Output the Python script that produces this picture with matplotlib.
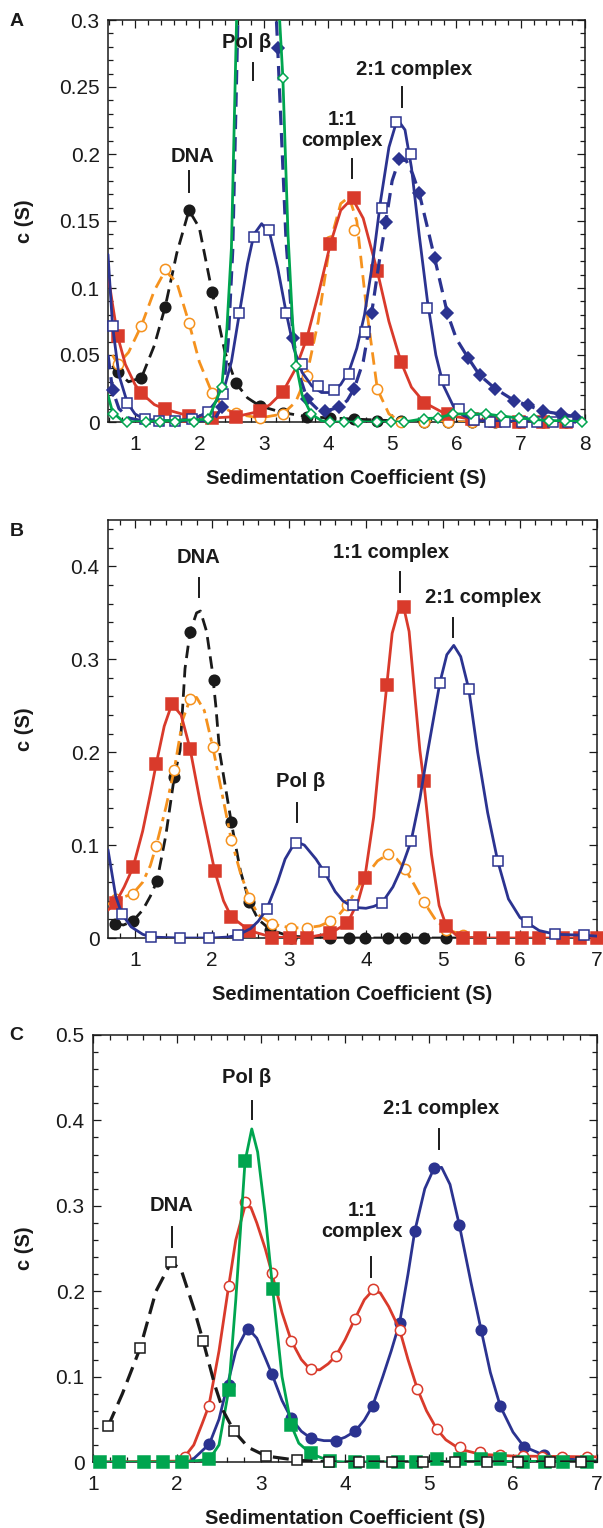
import matplotlib
matplotlib.use("Agg")
import matplotlib.pyplot as plt
from matplotlib.ticker import MultipleLocator, FuncFormatter

plt.rcParams['font.family'] = ['Liberation Sans', 'DejaVu Sans']

RED = '#d93a2b'
BLUE = '#2b3390'
GREEN = '#00a54f'
ORANGE = '#f5921e'
BLACK = '#1a1a1a'

# ---------------- panel A ----------------
a_grid = [0.73, 1.10, 1.47, 1.84, 2.20, 2.57, 2.94, 3.30, 3.67, 4.04,
          4.40, 4.77, 5.14, 5.50, 5.87, 6.24, 6.60, 6.97, 7.34, 7.70]
a_dna = [0.037, 0.033, 0.086, 0.158, 0.097, 0.029, 0.012, 0.007, 0.004, 0.003,
         0.002, 0.001, 0.001, 0.0, 0.0, 0.0, 0.0, 0.0, 0.0, 0.0]
a_orange = [0.043, 0.072, 0.1145, 0.074, 0.0215, 0.007, 0.003, 0.006, 0.0345, 0.135,
            0.143, 0.0245, 0.0, 0.0, 0.0, 0.0, 0.0, 0.0, 0.0, 0.0]
a_red = [0.064, 0.0215, 0.0095, 0.0045, 0.003, 0.004, 0.008, 0.0225, 0.062, 0.133,
         0.167, 0.1125, 0.0445, 0.0145, 0.006, 0.002, 0.001, 0.0, 0.0, 0.0]

a_dna_fit_x = [0.65, 0.73, 0.9, 1.1, 1.3, 1.47, 1.65, 1.84, 2.0, 2.2, 2.4, 2.57,
               2.75, 2.94, 3.3, 3.67, 4.04, 4.5, 5.0, 5.5, 8.0]
a_dna_fit_y = [0.042, 0.037, 0.030, 0.033, 0.057, 0.086, 0.126, 0.158, 0.145, 0.097, 0.052, 0.029,
               0.018, 0.012, 0.007, 0.004, 0.003, 0.002, 0.001, 0.0, 0.0]

a_or_fit_x = [0.65, 0.73, 0.9, 1.1, 1.3, 1.47, 1.65, 1.84, 2.0, 2.2, 2.4, 2.57, 2.94,
              3.3, 3.5, 3.67, 3.85, 4.04, 4.2, 4.33, 4.45, 4.6, 4.77, 4.95, 5.14, 8.0]
a_or_fit_y = [0.05, 0.043, 0.052, 0.072, 0.098, 0.113, 0.104, 0.074, 0.045, 0.0215, 0.01, 0.006, 0.003,
              0.006, 0.015, 0.0345, 0.075, 0.135, 0.163, 0.168, 0.15, 0.085, 0.0245, 0.006, 0.0, 0.0]

a_red_fit_x = [0.58, 0.65, 0.73, 0.85, 1.0, 1.1, 1.3, 1.47, 1.84, 2.2, 2.57, 2.94, 3.1, 3.3,
               3.5, 3.67, 3.85, 4.04, 4.2, 4.38, 4.55, 4.77, 4.95, 5.14, 5.3, 5.5, 5.87,
               6.24, 7.0, 8.0]
a_red_fit_y = [0.11, 0.088, 0.064, 0.043, 0.028, 0.0215, 0.013, 0.0095, 0.0045, 0.003, 0.004, 0.008, 0.013, 0.0225,
               0.04, 0.062, 0.095, 0.133, 0.158, 0.167, 0.152, 0.1125, 0.075, 0.0445, 0.026, 0.0145, 0.005,
               0.002, 0.0, 0.0]

a_sq_x = [0.65, 0.88, 1.15, 1.38, 1.62, 1.88, 2.13, 2.37, 2.62, 2.85, 3.08, 3.35, 3.60, 3.84, 4.10,
          4.33, 4.57, 4.84, 5.06, 5.30, 5.55, 5.80, 6.04, 6.28, 6.52, 6.76, 7.02, 7.26, 7.50, 7.74]
a_sq_y = [0.072, 0.0145, 0.002, 0.001, 0.001, 0.0025, 0.0075, 0.021, 0.081, 0.138, 0.143, 0.081, 0.043, 0.027, 0.024,
          0.036, 0.067, 0.160, 0.224, 0.200, 0.085, 0.031, 0.0095, 0.0015, 0.0, 0.0, 0.0, 0.0, 0.0, 0.0]
a_sq_fit_x = [0.58, 0.65, 0.75, 0.88, 1.0, 1.15, 1.5, 1.9, 2.13, 2.37, 2.5, 2.62, 2.75, 2.85, 2.97,
              3.1, 3.22, 3.35, 3.47, 3.6, 3.75, 3.9, 4.05, 4.2, 4.33, 4.45, 4.57, 4.7, 4.82, 4.95,
              5.08, 5.2, 5.3, 5.42, 5.55, 5.68, 5.8, 5.95, 6.1, 6.3, 8.0]
a_sq_fit_y = [0.125, 0.072, 0.035, 0.0145, 0.006, 0.002, 0.001, 0.002, 0.0075, 0.022, 0.045, 0.08, 0.118, 0.14, 0.148,
              0.14, 0.115, 0.082, 0.055, 0.037, 0.027, 0.022, 0.022, 0.028, 0.038, 0.055, 0.08, 0.12, 0.165, 0.205,
              0.226, 0.218, 0.19, 0.14, 0.09, 0.05, 0.027, 0.012, 0.005, 0.001, 0.0]

a_dia_x = [0.65, 2.35, 3.22, 3.46, 3.68, 3.96, 4.17, 4.41, 4.68, 4.90, 5.11, 5.42,
           5.66, 5.86, 6.18, 6.36, 6.60, 6.90, 7.11, 7.35, 7.62, 7.84]
a_dia_y = [0.024, 0.011, 0.279, 0.063, 0.017, 0.008, 0.011, 0.025, 0.081, 0.149, 0.196, 0.171,
           0.1225, 0.081, 0.048, 0.035, 0.025, 0.016, 0.0125, 0.008, 0.006, 0.004]
# peak of Pol beta runs far above the axis top
a_dia_fit_x = [0.58, 0.65, 0.75, 0.9, 1.2, 2.0, 2.25, 2.35, 2.45, 2.52, 2.60, 2.9, 3.2, 3.22, 3.35,
               3.46, 3.57, 3.68, 3.85, 3.96, 4.17, 4.3, 4.41, 4.55, 4.68, 4.80, 4.90, 5.0, 5.11,
               5.22, 5.32, 5.42, 5.55, 5.66, 5.86, 6.0, 6.18, 6.36, 6.60, 6.90, 7.11, 7.35, 7.62,
               7.84, 8.0]
a_dia_fit_y = [0.05, 0.024, 0.01, 0.003, 0.0, 0.0, 0.003, 0.011, 0.06, 0.128, 0.30, 0.6, 0.30, 0.279, 0.135,
               0.063, 0.033, 0.017, 0.009, 0.008, 0.011, 0.016, 0.025, 0.045, 0.081, 0.12, 0.149, 0.18, 0.196,
               0.195, 0.185, 0.171, 0.145, 0.1225, 0.081, 0.062, 0.048, 0.035, 0.025, 0.016, 0.0125, 0.008, 0.006,
               0.004, 0.003]

a_gd_x = [0.65, 0.88, 1.17, 1.39, 1.62, 1.92, 2.14, 2.35, 3.30, 3.51, 3.74, 4.04, 4.25, 4.47,
          4.76, 4.98, 5.19, 5.49, 5.72, 5.94, 6.22, 6.46, 6.69, 6.97, 7.20, 7.44, 7.69, 7.95]
a_gd_y = [0.006, 0.0, 0.0, 0.0, 0.0, 0.0, 0.002, 0.026, 0.257, 0.042, 0.006, 0.0, 0.0, 0.0,
          0.0, 0.0, 0.0, 0.0025, 0.003, 0.006, 0.006, 0.006, 0.0045, 0.003, 0.002, 0.001, 0.001, 0.0]
a_gd_fit_x = [0.58, 0.65, 0.8, 0.88, 2.14, 2.35, 2.43, 2.50, 2.58, 2.9, 3.25, 3.30, 3.38, 3.45, 3.51,
              3.6, 3.74, 3.9, 4.04, 5.19, 5.49, 5.72, 5.94, 6.22, 6.46, 6.69, 6.97, 7.2, 7.44,
              7.69, 7.95, 8.0]
a_gd_fit_y = [0.02, 0.0075, 0.001, 0.0, 0.002, 0.026, 0.07, 0.13, 0.30, 0.9, 0.30, 0.257, 0.14, 0.075, 0.042,
              0.02, 0.006, 0.001, 0.0, 0.0, 0.0025, 0.003, 0.006, 0.006, 0.006, 0.0045, 0.003, 0.002, 0.001,
              0.001, 0.0, 0.0]

a_labels = [("DNA", 1.89, 0.198, 1.84, 0.172, 0.187),
            ("Pol β", 2.74, 0.283, 2.83, 0.255, 0.268),
            ("1:1\ncomplex", 4.22, 0.218, 4.37, 0.182, 0.196),
            ("2:1 complex", 5.34, 0.263, 5.15, 0.235, 0.250)]

# ---------------- panel B ----------------
b_dna_x = [0.735, 0.97, 1.285, 1.51, 1.715, 2.03, 2.25, 2.485, 2.76, 3.02, 3.535, 3.775,
           3.985, 4.285, 4.51, 4.75, 5.045]
b_dna_y = [0.0155, 0.018, 0.061, 0.173, 0.329, 0.278, 0.125, 0.039, 0.009, 0.0, 0.0, 0.0,
           0.0, 0.0, 0.0, 0.0, 0.0]
b_dna_fit_x = [0.735, 0.85, 0.97, 1.1, 1.2, 1.285, 1.4, 1.51, 1.585, 1.65, 1.715, 1.8, 1.85, 1.93,
               2.0, 2.05, 2.1, 2.18, 2.25, 2.37, 2.485, 2.6, 2.76, 3.0, 3.5, 5.5]
b_dna_fit_y = [0.0155, 0.014, 0.018, 0.03, 0.045, 0.061, 0.11, 0.173, 0.202, 0.29, 0.329, 0.35, 0.352, 0.33,
               0.29, 0.25, 0.2, 0.16, 0.125, 0.072, 0.039, 0.02, 0.009, 0.002, 0.0, 0.0]

b_or_x = [0.75, 0.97, 1.275, 1.51, 1.715, 2.01, 2.25, 2.485, 2.775, 3.02, 3.235, 3.535, 3.76,
          4.285, 4.51, 4.75, 5.045, 5.26]
b_or_y = [0.042, 0.0475, 0.099, 0.181, 0.257, 0.206, 0.106, 0.043, 0.015, 0.011, 0.011, 0.018, 0.036,
          0.090, 0.074, 0.039, 0.009, 0.0035]
b_or_fit_x = [0.65, 0.75, 0.85, 0.97, 1.1, 1.2, 1.275, 1.4, 1.51, 1.62, 1.715, 1.8, 1.9, 2.01, 2.12,
              2.25, 2.37, 2.485, 2.6, 2.775, 3.02, 3.235, 3.4, 3.535, 3.65, 3.76, 3.9, 4.0, 4.15,
              4.285, 4.4, 4.51, 4.63, 4.75, 4.9, 5.045, 5.26, 5.5]
b_or_fit_y = [0.036, 0.042, 0.044, 0.0475, 0.06, 0.078, 0.099, 0.14, 0.181, 0.235, 0.257, 0.259, 0.245, 0.206, 0.16,
              0.106, 0.07, 0.043, 0.025, 0.015, 0.011, 0.011, 0.013, 0.018, 0.025, 0.036, 0.055, 0.067, 0.083,
              0.090, 0.085, 0.074, 0.057, 0.039, 0.02, 0.009, 0.0035, 0.0]

b_red_x = [0.75, 0.975, 1.275, 1.48, 1.715, 2.035, 2.25, 2.485, 2.775, 3.01, 3.235, 3.535, 3.76,
           3.985, 4.27, 4.49, 4.75, 5.045, 5.26, 5.485, 5.785, 6.025, 6.25, 6.56, 6.775, 7.0]
b_red_y = [0.038, 0.076, 0.187, 0.252, 0.204, 0.0725, 0.023, 0.008, 0.0, 0.0, 0.0, 0.005, 0.016,
           0.065, 0.272, 0.356, 0.169, 0.0125, 0.0, 0.0, 0.0, 0.0, 0.0, 0.0, 0.0, 0.0]
b_red_fit_x = [0.65, 0.75, 0.86, 0.975, 1.1, 1.2, 1.275, 1.38, 1.48, 1.6, 1.715, 1.85, 2.035, 2.15,
               2.25, 2.485, 2.775, 3.2, 3.535, 3.76, 3.9, 3.985, 4.1, 4.2, 4.27, 4.34, 4.42, 4.49,
               4.56, 4.64, 4.70, 4.75, 4.85, 4.95, 5.045, 5.2, 5.5, 7.0]
b_red_fit_y = [0.03, 0.038, 0.055, 0.076, 0.115, 0.155, 0.187, 0.228, 0.252, 0.24, 0.204, 0.145, 0.0725, 0.04,
               0.023, 0.008, 0.001, 0.0, 0.005, 0.016, 0.04, 0.065, 0.13, 0.215, 0.272, 0.328, 0.352, 0.356,
               0.33, 0.256, 0.202, 0.169, 0.09, 0.035, 0.0125, 0.001, 0.0, 0.0]

b_sq_x = [0.83, 1.21, 1.585, 1.96, 2.335, 2.71, 3.085, 3.46, 3.835, 4.21, 4.585, 4.96, 5.335,
          5.71, 6.085, 6.46, 6.835]
b_sq_y = [0.026, 0.001, 0.0, 0.0, 0.003, 0.031, 0.102, 0.071, 0.035, 0.038, 0.104, 0.275, 0.268,
          0.083, 0.017, 0.004, 0.003]
b_sq_fit_x = [0.65, 0.75, 0.83, 0.95, 1.1, 1.21, 1.6, 2.0, 2.2, 2.335, 2.5, 2.6, 2.71, 2.85, 2.95,
              3.085, 3.2, 3.35, 3.46, 3.6, 3.7, 3.835, 4.0, 4.1, 4.21, 4.35, 4.46, 4.585, 4.7, 4.8,
              4.96, 5.05, 5.14, 5.23, 5.335, 5.45, 5.58, 5.71, 5.85, 6.0, 6.085, 6.25, 6.46, 6.835, 7.0]
b_sq_fit_y = [0.095, 0.045, 0.026, 0.012, 0.004, 0.001, 0.0, 0.0, 0.001, 0.003, 0.01, 0.018, 0.031, 0.06, 0.085,
              0.104, 0.1, 0.085, 0.071, 0.05, 0.04, 0.033, 0.032, 0.034, 0.038, 0.055, 0.075, 0.104, 0.15, 0.2,
              0.275, 0.305, 0.315, 0.303, 0.268, 0.2, 0.135, 0.083, 0.042, 0.022, 0.017, 0.008, 0.004, 0.003, 0.002]

b_labels = [("DNA", 1.82, 0.410, 1.83, 0.367, 0.388),
            ("1:1 complex", 4.33, 0.415, 4.44, 0.372, 0.394),
            ("2:1 complex", 5.52, 0.367, 5.13, 0.324, 0.345),
            ("Pol β", 3.15, 0.168, 3.10, 0.125, 0.145)]

# ---------------- panel C ----------------
c_dna_x = [1.18, 1.56, 1.93, 2.31, 2.68, 3.06, 3.43, 3.81, 4.17, 4.56, 4.93, 5.31, 5.69, 6.06, 6.44, 6.81]
c_dna_y = [0.042, 0.133, 0.234, 0.142, 0.036, 0.007, 0.002, 0.0, 0.0, 0.0, 0.0, 0.0, 0.0, 0.0, 0.0, 0.0]
c_dna_fit_x = [1.18, 1.35, 1.56, 1.75, 1.93, 2.05, 2.2, 2.31, 2.45, 2.55, 2.68, 2.85, 3.06, 3.43, 3.81, 7.0]
c_dna_fit_y = [0.042, 0.08, 0.133, 0.2, 0.234, 0.225, 0.18, 0.142, 0.09, 0.06, 0.036, 0.017, 0.007, 0.002, 0.0, 0.0]

c_red_x = [2.09, 2.38, 2.615, 2.81, 3.13, 3.36, 3.59, 3.89, 4.12, 4.33, 4.65, 4.86, 5.09, 5.37,
           5.61, 5.85, 6.12, 6.35, 6.58, 6.88]
c_red_y = [0.006, 0.066, 0.206, 0.304, 0.221, 0.142, 0.109, 0.124, 0.168, 0.203, 0.155, 0.086, 0.039, 0.018,
           0.012, 0.008, 0.007, 0.006, 0.006, 0.006]
c_red_fit_x = [1.0, 2.0, 2.09, 2.2, 2.3, 2.38, 2.5, 2.615, 2.7, 2.81, 2.88, 2.95, 3.05, 3.13, 3.25, 3.36,
               3.48, 3.59, 3.7, 3.8, 3.89, 4.0, 4.12, 4.23, 4.33, 4.42, 4.52, 4.65, 4.75, 4.86, 4.97,
               5.09, 5.2, 5.37, 5.61, 6.0, 7.0]
c_red_fit_y = [0.0, 0.001, 0.006, 0.02, 0.045, 0.066, 0.13, 0.206, 0.26, 0.300, 0.298, 0.28, 0.25, 0.221, 0.175, 0.142,
               0.12, 0.108, 0.108, 0.115, 0.124, 0.143, 0.168, 0.19, 0.201, 0.198, 0.182, 0.155, 0.12, 0.086, 0.06,
               0.039, 0.026, 0.015, 0.009, 0.007, 0.006]

c_gr_x = [1.08, 1.31, 1.61, 1.83, 2.06, 2.385, 2.615, 2.81, 3.14, 3.36, 3.59, 3.82, 4.12, 4.33,
          4.63, 4.85, 5.09, 5.37, 5.62, 5.85, 6.12, 6.38, 6.60, 6.88]
c_gr_y = [0.0, 0.0, 0.0, 0.0, 0.0, 0.003, 0.084, 0.352, 0.202, 0.043, 0.01, 0.001, 0.0, 0.0,
          0.0, 0.0, 0.003, 0.003, 0.003, 0.003, 0.0, 0.0, 0.0, 0.0]
c_gr_fit_x = [1.0, 2.06, 2.385, 2.5, 2.615, 2.7, 2.81, 2.89, 2.96, 3.05, 3.14, 3.25, 3.36, 3.45, 3.59,
              3.82, 4.0, 7.0]
c_gr_fit_y = [0.0, 0.0, 0.003, 0.02, 0.084, 0.19, 0.352, 0.39, 0.363, 0.29, 0.202, 0.1, 0.043, 0.022, 0.01,
              0.001, 0.0, 0.001]

c_bl_x = [2.385, 2.615, 2.84, 3.13, 3.36, 3.59, 3.89, 4.12, 4.33, 4.65, 4.83, 5.06, 5.36, 5.62,
          5.85, 6.13, 6.37, 6.58, 6.87]
c_bl_y = [0.021, 0.09, 0.156, 0.103, 0.051, 0.028, 0.025, 0.036, 0.066, 0.163, 0.27, 0.344, 0.278, 0.155,
          0.065, 0.018, 0.008, 0.004, 0.001]
c_bl_fit_x = [2.0, 2.2, 2.385, 2.5, 2.6, 2.7, 2.84, 2.95, 3.05, 3.13, 3.25, 3.36, 3.48, 3.59, 3.75, 3.89,
              4.0, 4.12, 4.23, 4.33, 4.45, 4.55, 4.65, 4.75, 4.83, 4.95, 5.06, 5.15, 5.25, 5.36, 5.5,
              5.62, 5.73, 5.85, 6.0, 6.13, 6.37, 6.58, 7.0]
c_bl_fit_y = [0.0, 0.004, 0.021, 0.05, 0.09, 0.13, 0.157, 0.145, 0.122, 0.103, 0.072, 0.051, 0.036, 0.028, 0.025, 0.025,
              0.029, 0.036, 0.049, 0.066, 0.1, 0.13, 0.163, 0.22, 0.27, 0.32, 0.344, 0.345, 0.325, 0.278, 0.21,
              0.155, 0.105, 0.065, 0.035, 0.018, 0.008, 0.004, 0.001]

c_labels = [("DNA", 1.93, 0.300, 1.94, 0.252, 0.275),
            ("Pol β", 2.83, 0.450, 2.89, 0.402, 0.423),
            ("2:1 complex", 5.15, 0.414, 5.12, 0.367, 0.390),
            ("1:1\ncomplex", 4.20, 0.282, 4.31, 0.217, 0.240)]

DASH = (0, (4.5, 2.5))
DASHDOT = (0, (5, 2, 1.5, 2))

W, H = 603, 1528
fig = plt.figure(figsize=(W / 100, H / 100), dpi=100)


def make_axes(left, right, top, bottom):
    return fig.add_axes([left / W, 1 - bottom / H, (right - left) / W, (bottom - top) / H])


def style(ax, xlim, ylim, ymajor, yminor, left_px, width_px, height_px):
    ax.set_xlim(*xlim)
    ax.set_ylim(*ylim)
    ax.xaxis.set_major_locator(MultipleLocator(1))
    ax.xaxis.set_minor_locator(MultipleLocator(0.2))
    ax.yaxis.set_major_locator(MultipleLocator(ymajor))
    ax.yaxis.set_minor_locator(MultipleLocator(yminor))
    ax.yaxis.set_major_formatter(FuncFormatter(lambda v, p: f'{v:g}'))
    ax.tick_params(which='both', direction='in', top=True, right=True, width=0.9, color=BLACK)
    ax.tick_params(which='major', length=6, labelsize=15, labelcolor=BLACK)
    ax.tick_params(axis='x', which='major', pad=9)
    ax.tick_params(axis='y', which='major', pad=6)
    ax.tick_params(which='minor', length=3.5)
    for s in ax.spines.values():
        s.set_linewidth(1.1)
        s.set_color(BLACK)
    ax.set_xlabel('Sedimentation Coefficient (S)', fontsize=14.5, fontweight='bold', color=BLACK)
    ax.xaxis.label.set_va('center')
    ax.xaxis.set_label_coords(0.5, -56 / height_px)
    ax.set_ylabel('c (S)', fontsize=14.5, fontweight='bold', color=BLACK)
    ax.yaxis.label.set_va('center')
    ax.yaxis.set_label_coords((24 - left_px) / width_px, 0.5)


def series(ax, fx, fy, mx, my, color, ls, marker, ms, filled, z, lw=2.0):
    ax.plot(fx, fy, color=color, ls=ls, lw=lw, zorder=z, solid_capstyle='round')
    ax.plot(mx, my, ls='none', marker=marker, ms=ms, mec=color,
            mfc=color if filled else 'white', mew=1.1, zorder=z + 0.5, clip_on=False)


def labels(ax, items):
    for text, tx, ty, lx, y0, y1 in items:
        ax.text(tx, ty, text, ha='center', va='center', fontsize=14.5, fontweight='bold',
                color=BLACK, linespacing=1.15, zorder=10)
        ax.plot([lx, lx], [y0, y1], color=BLACK, lw=1.4, zorder=10)


# panel A
axA = make_axes(108, 585, 20, 422)
series(axA, a_dna_fit_x, a_dna_fit_y, a_grid, a_dna, BLACK, DASH, 'o', 7.6, True, 2)
series(axA, a_or_fit_x, a_or_fit_y, a_grid, a_orange, ORANGE, DASH, 'o', 7.4, False, 3)
series(axA, a_red_fit_x, a_red_fit_y, a_grid, a_red, RED, '-', 's', 8.2, True, 4)
series(axA, a_dia_fit_x, a_dia_fit_y, a_dia_x, a_dia_y, BLUE, DASH, 'D', 5.8, True, 5, lw=2.3)
series(axA, a_sq_fit_x, a_sq_fit_y, a_sq_x, a_sq_y, BLUE, '-', 's', 6.6, False, 6)
series(axA, a_gd_fit_x, a_gd_fit_y, a_gd_x, a_gd_y, GREEN, '-', 'D', 5.6, False, 7)
labels(axA, a_labels)
style(axA, (0.58, 8.0), (0, 0.3), 0.05, 0.01, 108, 477, 402)

# panel B
axB = make_axes(108, 597, 520, 938)
series(axB, b_dna_fit_x, b_dna_fit_y, b_dna_x, b_dna_y, BLACK, DASH, 'o', 7.6, True, 2)
series(axB, b_or_fit_x, b_or_fit_y, b_or_x, b_or_y, ORANGE, DASHDOT, 'o', 7.4, False, 3)
series(axB, b_red_fit_x, b_red_fit_y, b_red_x, b_red_y, RED, '-', 's', 8.2, True, 4)
series(axB, b_sq_fit_x, b_sq_fit_y, b_sq_x, b_sq_y, BLUE, '-', 's', 7.2, False, 5)
labels(axB, b_labels)
style(axB, (0.65, 7.0), (0, 0.45), 0.1, 0.02, 108, 489, 418)

# panel C
axC = make_axes(93, 597, 1035, 1462)
series(axC, c_bl_fit_x, c_bl_fit_y, c_bl_x, c_bl_y, BLUE, '-', 'o', 7.6, True, 2)
series(axC, c_red_fit_x, c_red_fit_y, c_red_x, c_red_y, RED, '-', 'o', 7.4, False, 3)
series(axC, c_gr_fit_x, c_gr_fit_y, c_gr_x, c_gr_y, GREEN, '-', 's', 8.2, True, 4)
series(axC, c_dna_fit_x, c_dna_fit_y, c_dna_x, c_dna_y, BLACK, (0, (5, 2.5)), 's', 7.0, False, 5, lw=2.3)
labels(axC, c_labels)
style(axC, (1.0, 7.0), (0, 0.5), 0.1, 0.02, 93, 504, 427)

for letter, px, py in [('A', 17, 21), ('B', 17, 532), ('C', 16, 1035)]:
    fig.text(px / W, 1 - py / H, letter, ha='center', va='center', fontsize=14,
             fontweight='bold', color=BLACK)

fig.savefig('out.png', dpi=100, facecolor='white')
